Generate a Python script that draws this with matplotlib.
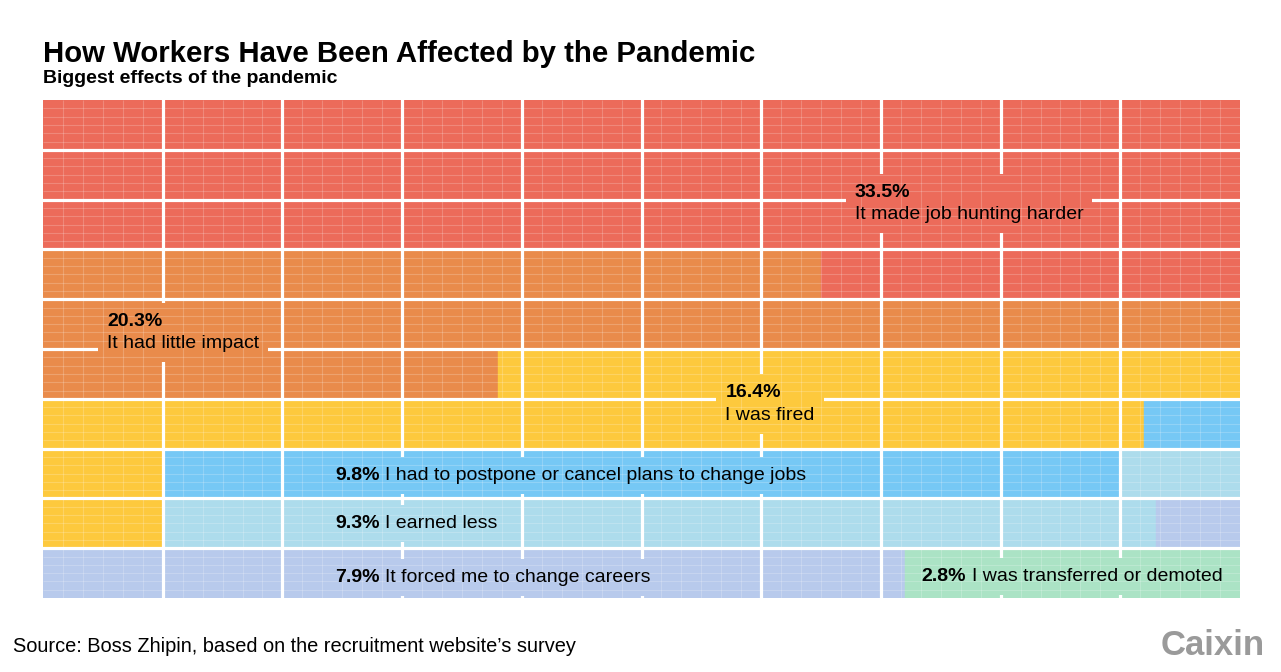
import numpy as np
import matplotlib.pyplot as plt
from matplotlib.patches import Rectangle
from matplotlib.transforms import Bbox

plt.rcParams['font.family'] = ['Liberation Sans', 'DejaVu Sans']

# categories and their shares (%)
categories = [
    "It made job hunting harder",
    "It had little impact",
    "I was fired",
    "I had to postpone or cancel plans to change jobs",
    "I earned less",
    "It forced me to change careers",
    "I was transferred or demoted",
]
shares = [33.5, 20.3, 16.4, 9.8, 9.3, 7.9, 2.8]
colors = ["#EC6B5A", "#E98B4B", "#FDC93D", "#76C8F5", "#ADDCEC", "#B8CAEC", "#ABE3C5"]

# how each of the 10 rows of the waffle is split (category index, width in %)
row_cats = [
    [0], [0], [0],
    [1, 0],
    [1],
    [1, 2],
    [2, 3],
    [2, 3, 4],
    [2, 4, 5],
    [5, 6],
]
row_widths = [
    [10], [10], [10],
    [6.5, 3.5],
    [10],
    [3.8, 6.2],
    [9.2, 0.8],
    [1, 8, 1],
    [1, 8.3, 0.7],
    [7.2, 2.8],
]

# label anchor (x in columns, y in rows of the first line) and layout
label_xy = [(6.78, 1.85), (0.535, 4.44), (5.70, 5.88), (2.44, 7.55),
            (2.44, 8.51), (2.44, 9.58), (7.34, 9.56)]
two_line = [True, True, True, False, False, False, False]

W, H = 1281, 672
fig = plt.figure(figsize=(W / 100, H / 100), dpi=100)
ax = fig.add_axes([43 / W, 74 / H, 1197 / W, 498 / H])
ax.set_xlim(0, 10)
ax.set_ylim(10, 0)
ax.axis('off')

for r, (cats, widths) in enumerate(zip(row_cats, row_widths)):
    left = 0
    for c, w in zip(cats, widths):
        ax.barh(r, w, left=left, height=1, align='edge', color=colors[c],
                edgecolor=colors[c], linewidth=0.3, zorder=1)
        left += w

# big cell separators
for k in range(1, 10):
    ax.axvline(k, color='white', lw=2.3, zorder=2)
    ax.axhline(k, color='white', lw=2.3, zorder=2)

# fine grid inside the cells
fine = [k / 6 for k in range(1, 60) if k % 6]
ax.vlines(fine, 0, 10, color='white', alpha=0.2, lw=0.8, zorder=4)
ax.hlines(fine, 0, 10, color='white', alpha=0.2, lw=0.8, zorder=4)

fs = 14
labels = []
for i, (cat, pct) in enumerate(zip(categories, shares)):
    x, y = label_xy[i]
    t = ax.text(x, y, f"{pct:.1f}%", fontsize=fs, fontweight='bold',
                va='center', ha='left', zorder=5)
    if two_line[i]:
        t2 = ax.annotate(cat, xy=(0, 0.5), xycoords=t, xytext=(0, -16),
                         textcoords='offset points', fontsize=fs,
                         va='center', ha='left', zorder=5)
    else:
        t2 = ax.annotate(cat, xy=(1, 0), xycoords=t, xytext=(4, 0),
                         textcoords='offset points', fontsize=fs,
                         va='bottom', ha='left', zorder=5)
    labels.append((i, t, t2))

# background boxes behind the labels, sized from the texts
renderer = fig.canvas.get_renderer()
inv = ax.transData.inverted()
for i, t, t2 in labels:
    bb = Bbox.union([t.get_window_extent(renderer), t2.get_window_extent(renderer)])
    bb = bb.padded(9, 10)
    (x0, y0), (x1, y1) = inv.transform([[bb.x0, bb.y0], [bb.x1, bb.y1]])
    ax.add_patch(Rectangle((x0, y1), x1 - x0, y0 - y1, fc=colors[i], ec='none',
                           zorder=3, clip_on=True))

fig.text(43 / W, 1 - 62 / H, "How Workers Have Been Affected by the Pandemic",
         fontsize=21.2, fontweight='bold', va='baseline', ha='left')
fig.text(43 / W, 1 - 83 / H, "Biggest effects of the pandemic",
         fontsize=14, fontweight='bold', va='baseline', ha='left')
fig.text(13 / W, 1 - 652 / H,
         "Source: Boss Zhipin, based on the recruitment website\u2019s survey",
         fontsize=14.4, va='baseline', ha='left')
fig.text(1265 / W, 1 - 655 / H, "Caixin", fontsize=25, fontweight='bold',
         color='#9a9a9a', va='baseline', ha='right')

fig.savefig("out.png", dpi=100, facecolor='white')
